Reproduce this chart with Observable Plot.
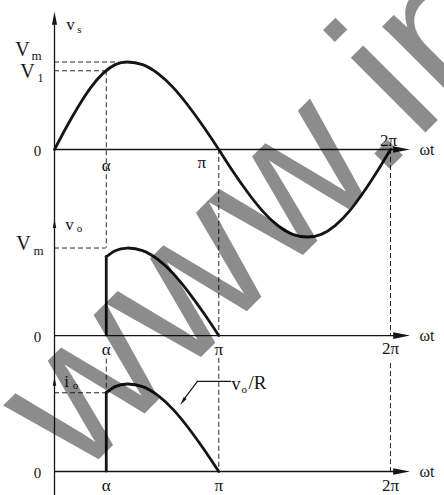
<!DOCTYPE html>
<html>
<head>
<meta charset="utf-8">
<script src="https://cdn.jsdelivr.net/npm/d3@7"></script>
<script src="https://cdn.jsdelivr.net/npm/@observablehq/plot@0.6"></script>
<style>
  html, body { margin: 0; padding: 0; background: #fff; }
  #chart { width: 444px; height: 495px; overflow: hidden; }
</style>
</head>
<body>
<div id="chart"></div>
<script>
// Phase angle ωt in degrees, one sample every 15°
const angleDeg = [0, 15, 30, 45, 60, 75, 90, 105, 120, 135, 150, 165, 180,
                  195, 210, 225, 240, 255, 270, 285, 300, 315, 330, 345, 360];
// Supply voltage v_s, in units of Vm
const vsValues = [0, 0.26, 0.5, 0.71, 0.87, 0.97, 1, 0.97, 0.87, 0.71, 0.5, 0.26, 0,
                  -0.26, -0.5, -0.71, -0.87, -0.97, -1, -0.97, -0.87, -0.71, -0.5, -0.26, 0];
// Firing angle α and the supply voltage V1 at that instant
const alphaDeg = 64;
const v1Value = 0.9;
// Conduction interval α … π
const conductionDeg = [64, 75, 90, 105, 120, 135, 150, 165, 180];
// Output voltage v_o (units of Vm)
const voValues = [0.9, 0.97, 1, 0.97, 0.87, 0.71, 0.5, 0.26, 0];
// Load current i_o = v_o / R (units of Vm/R)
const ioValues = [0.9, 0.97, 1, 0.97, 0.87, 0.71, 0.5, 0.26, 0];
// Angle marks on the ωt axes
const tickDeg = [64, 180, 360];
const tickLabels = ["α", "π", "2π"];

// Zero line of each trace, stacked top to bottom (Vm units)
const base = {vs: 0, vo: -2.126, io: -3.68};

// the hand-drawn angle axis is slightly uneven between its quarter marks
const angleWarp = d3.scaleLinear([0, 90, 180, 270, 360], [0, 78, 176, 271, 360]);

const ink = "#151515";
const serif = "'Liberation Serif', 'Times New Roman', serif";
const dash = {stroke: "#2a2a2a", strokeWidth: 1, strokeDasharray: "5,3"};
const heavy = {stroke: ink, strokeWidth: 2.8, strokeLinejoin: "round", strokeLinecap: "round"};

// slender filled arrowhead pointing along +x
const arrowHead = {
  draw(ctx, size) {
    const r = Math.sqrt(size / Math.PI);
    ctx.moveTo(2 * r, 0);
    ctx.lineTo(-2 * r, -0.8 * r);
    ctx.lineTo(-2 * r, 0.8 * r);
    ctx.closePath();
  }
};

const pts = (ang, vals, b) => ang.map((a, i) => ({a, v: vals[i] + b}));
const head = (x, y, r, rotate) =>
  Plot.dot([0], {x: () => x, y: () => y, r, rotate, symbol: arrowHead, fill: ink, stroke: "none"});
const label = (text, x, y, o = {}) =>
  Plot.text([text], {x: () => x, y: () => y, text: d => d, fontFamily: serif, fill: ink, fontSize: 17, ...o});
const ticks = (b, dy, dxs) =>
  tickDeg.map((deg, i) => label(tickLabels[i], deg, b, {dy: dy[i], dx: dxs[i]}));

const marks = [
  // dashed construction lines
  Plot.ruleY([1], {x1: 0, x2: 80, ...dash}),
  Plot.ruleY([v1Value], {x1: 0, x2: alphaDeg, ...dash}),
  Plot.ruleX([alphaDeg], {y1: () => v1Value, y2: () => base.vo + 1, ...dash}),
  Plot.ruleY([base.vo + 1], {x1: 0, x2: alphaDeg, ...dash}),
  Plot.ruleX([180, 360], {y1: () => base.vs, y2: () => base.vo, ...dash}),
  Plot.ruleX([alphaDeg], {y1: () => base.vo - 0.27, y2: () => base.io + ioValues[0], ...dash}),
  Plot.ruleY([base.io + ioValues[0]], {x1: 0, x2: alphaDeg, ...dash}),
  Plot.ruleX([180], {y1: () => base.vo - 0.26, y2: () => base.io, ...dash}),
  Plot.ruleX([360], {y1: () => base.vo - 0.32, y2: () => base.io, ...dash}),

  // axes
  Plot.ruleX([0], {y1: () => -4.1, y2: () => 1.45, stroke: ink, strokeWidth: 1.3}),
  Plot.ruleY([base.vs, base.vo, base.io], {x1: 0, x2: 372, stroke: ink, strokeWidth: 1.3}),
  ...[base.vs, base.vo, base.io].map(b => head(372, b, 4.2, 0)),
  head(0, 1.5, 3.2, -90),
  head(0, base.vo + 1.28, 2.2, -90),
  head(0, base.io + 1.03, 2.2, -90),

  // v_s
  Plot.line(pts(angleDeg, vsValues, base.vs), {x: "a", y: "v", curve: "natural", ...heavy}),
  // v_o
  Plot.ruleX([alphaDeg], {y1: () => base.vo, y2: () => base.vo + voValues[0], ...heavy}),
  Plot.line(pts(conductionDeg, voValues, base.vo), {x: "a", y: "v", curve: "natural", ...heavy}),
  // i_o
  Plot.ruleX([alphaDeg], {y1: () => base.io, y2: () => base.io + ioValues[0], ...heavy}),
  Plot.line(pts(conductionDeg, ioValues, base.io), {x: "a", y: "v", curve: "natural", ...heavy}),

  // v_o/R call-out
  Plot.line([{a: 192, v: base.io + 1.03}, {a: 159, v: base.io + 1.03}, {a: 146, v: base.io + 0.83}],
            {x: "a", y: "v", stroke: ink, strokeWidth: 1.2}),
  head(144.5, base.io + 0.8, 2.2, 125),
  label("v", 192, base.io + 1.03, {textAnchor: "start", dx: 1, dy: 3, fontSize: 18}),
  label("o", 192, base.io + 1.03, {textAnchor: "start", dx: 11, dy: 8, fontSize: 11}),
  label("/R", 192, base.io + 1.03, {textAnchor: "start", dx: 18, dy: 2, fontSize: 19}),

  // trace names
  label("v", 0, 1.5, {dx: 16, dy: 6}),
  label("s", 0, 1.5, {dx: 25, dy: 11, fontSize: 11}),
  label("v", 0, base.vo + 1.28, {dx: 15, dy: 1}),
  label("o", 0, base.vo + 1.28, {dx: 25, dy: 5, fontSize: 11}),
  label("i", 0, base.io + 1.03, {dx: 12, dy: 0}),
  label("o", 0, base.io + 1.03, {dx: 21, dy: 4, fontSize: 11}),

  // level labels
  label("V", 0, 1, {dx: -32, dy: -12, fontSize: 20}),
  label("m", 0, 1, {dx: -18, dy: -6, fontSize: 13}),
  label("V", 0, v1Value, {dx: -27, dy: 1, fontSize: 20}),
  label("1", 0, v1Value, {dx: -14, dy: 7, fontSize: 12}),
  label("V", 0, base.vo + 1, {dx: -31, dy: -4, fontSize: 20}),
  label("m", 0, base.vo + 1, {dx: -16, dy: 3, fontSize: 13}),
  ...[base.vs, base.vo, base.io].map(b => label("0", 0, b, {dx: -17, dy: 2, fontSize: 15})),

  // angle labels
  ...ticks(base.vs, [16, 13, -9], [0, -17, -2]),
  ...ticks(base.vo, [14, 14, 13], [0, 0, 0]),
  ...ticks(base.io, [14, 14, 14], [0, 0, 0]),
  ...[base.vs, base.vo, base.io].map(b => label("ωt", 360, b, {textAnchor: "start", dx: 29, dy: 0, fontSize: 16}))
];

const svg = Plot.plot({
  width: 444,
  height: 495,
  margin: 0,
  x: {domain: [0, 360], range: [54, 390], transform: angleWarp, axis: null},
  y: {domain: [0, 1], range: [149, 61.5], axis: null},
  style: {background: "#fff", overflow: "visible"},
  marks
});

// site watermark printed across the figure
d3.select(svg).append("text")
  .attr("transform", "translate(78,480) rotate(-45)")
  .attr("text-anchor", "start")
  .attr("font-family", "'Liberation Sans', Arial, sans-serif")
  .attr("font-size", 200)
  .attr("fill", "#000")
  .attr("fill-opacity", 0.45)
  .text("www.in");

document.getElementById("chart").append(svg);
</script>
</body>
</html>
